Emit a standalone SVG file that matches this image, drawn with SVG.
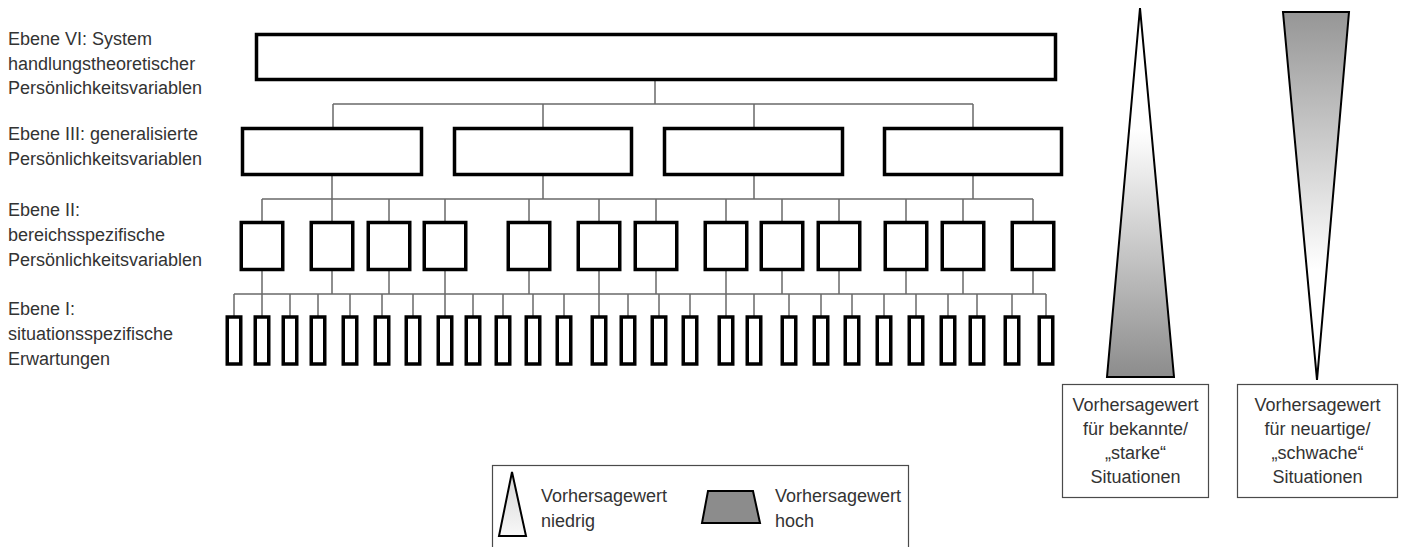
<svg xmlns="http://www.w3.org/2000/svg" width="1405" height="547" viewBox="0 0 1405 547">
<style>
.t{font-family:"Liberation Sans",Arial,sans-serif;font-size:18px;fill:#333}
.c{text-anchor:middle}
.box{fill:#fff;stroke:#000;stroke-width:3.5}
.con{stroke:#6a6a6a;stroke-width:1.5;fill:none}
.out{fill:#fff;stroke:#4a4a4a;stroke-width:1.2}
.tri{stroke:#000;stroke-width:2;stroke-linejoin:miter}
</style>
<defs>
<linearGradient id="gUp" x1="0" y1="0" x2="0" y2="1">
<stop offset="0" stop-color="#fff"/><stop offset="0.33" stop-color="#fff"/><stop offset="1" stop-color="#8c8c8c"/>
</linearGradient>
<linearGradient id="gDown" x1="0" y1="0" x2="0" y2="1">
<stop offset="0" stop-color="#969696"/><stop offset="0.7" stop-color="#fff"/><stop offset="1" stop-color="#fff"/>
</linearGradient>
<linearGradient id="gLeg" x1="0" y1="0" x2="0" y2="1">
<stop offset="0" stop-color="#d6d6d6"/><stop offset="1" stop-color="#f8f8f8"/>
</linearGradient>
</defs>
<rect width="1405" height="547" fill="#fff"/>

<g id="labels">
<text class="t" x="8" y="45">Ebene VI: System</text>
<text class="t" x="8" y="69.5">handlungstheoretischer</text>
<text class="t" x="8" y="94">Persönlichkeitsvariablen</text>
<text class="t" x="8" y="140">Ebene III: generalisierte</text>
<text class="t" x="8" y="165">Persönlichkeitsvariablen</text>
<text class="t" x="8" y="216">Ebene II:</text>
<text class="t" x="8" y="240.5">bereichsspezifische</text>
<text class="t" x="8" y="266">Persönlichkeitsvariablen</text>
<text class="t" x="8" y="315">Ebene I:</text>
<text class="t" x="8" y="340">situationsspezifische</text>
<text class="t" x="8" y="365">Erwartungen</text>
</g>

<g id="connectors">
<path class="con" d="M655 81V104M333 104H973M333 104V127M543 104V127M754 104V127M973 104V127"/>
<path class="con" d="M332 176V199M543 176V199M754 176V199M973 176V199M262 199H1033
M262 199V221M332 199V221M389 199V221M445 199V221M529 199V221M599 199V221M656 199V221M726 199V221M782 199V221M839 199V221M906 199V221M963 199V221M1033 199V221"/>
<path class="con" d="M262 271V294M332 271V294M389 271V294M445 271V294M529 271V294M599 271V294M656 271V294M726 271V294M782 271V294M839 271V294M906 271V294M963 271V294M1033 271V294M234 294H1046
M234 294V316M262 294V316M290 294V316M318 294V316M350 294V316M382 294V316M413 294V316M445 294V316M473 294V316M503 294V316M533 294V316M564 294V316M599 294V316M628 294V316M659 294V316M690 294V316M726 294V316M754 294V316M789 294V316M821 294V316M852 294V316M884 294V316M916 294V316M948 294V316M977 294V316M1012 294V316M1046 294V316"/>
</g>

<g id="level6"><rect class="box" x="256.5" y="34.5" width="799" height="45"/></g>

<g id="level3">
<rect class="box" x="242.5" y="128.5" width="179" height="46"/>
<rect class="box" x="454.5" y="128.5" width="177" height="46"/>
<rect class="box" x="664.5" y="128.5" width="178" height="46"/>
<rect class="box" x="884.5" y="128.5" width="177" height="46"/>
</g>

<g id="level2">
<rect class="box" x="241.25" y="222.5" width="41.5" height="47"/>
<rect class="box" x="311.25" y="222.5" width="41.5" height="47"/>
<rect class="box" x="368.25" y="222.5" width="41.5" height="47"/>
<rect class="box" x="424.25" y="222.5" width="41.5" height="47"/>
<rect class="box" x="508.25" y="222.5" width="41.5" height="47"/>
<rect class="box" x="578.25" y="222.5" width="41.5" height="47"/>
<rect class="box" x="635.25" y="222.5" width="41.5" height="47"/>
<rect class="box" x="705.25" y="222.5" width="41.5" height="47"/>
<rect class="box" x="761.25" y="222.5" width="41.5" height="47"/>
<rect class="box" x="818.25" y="222.5" width="41.5" height="47"/>
<rect class="box" x="885.25" y="222.5" width="41.5" height="47"/>
<rect class="box" x="942.25" y="222.5" width="41.5" height="47"/>
<rect class="box" x="1012.25" y="222.5" width="41.5" height="47"/>
</g>

<g id="level1">
<rect class="box" x="227.25" y="317" width="13.5" height="47"/>
<rect class="box" x="255.25" y="317" width="13.5" height="47"/>
<rect class="box" x="283.25" y="317" width="13.5" height="47"/>
<rect class="box" x="311.25" y="317" width="13.5" height="47"/>
<rect class="box" x="343.25" y="317" width="13.5" height="47"/>
<rect class="box" x="375.25" y="317" width="13.5" height="47"/>
<rect class="box" x="406.25" y="317" width="13.5" height="47"/>
<rect class="box" x="438.25" y="317" width="13.5" height="47"/>
<rect class="box" x="466.25" y="317" width="13.5" height="47"/>
<rect class="box" x="496.25" y="317" width="13.5" height="47"/>
<rect class="box" x="526.25" y="317" width="13.5" height="47"/>
<rect class="box" x="557.25" y="317" width="13.5" height="47"/>
<rect class="box" x="592.25" y="317" width="13.5" height="47"/>
<rect class="box" x="621.25" y="317" width="13.5" height="47"/>
<rect class="box" x="652.25" y="317" width="13.5" height="47"/>
<rect class="box" x="683.25" y="317" width="13.5" height="47"/>
<rect class="box" x="719.25" y="317" width="13.5" height="47"/>
<rect class="box" x="747.25" y="317" width="13.5" height="47"/>
<rect class="box" x="782.25" y="317" width="13.5" height="47"/>
<rect class="box" x="814.25" y="317" width="13.5" height="47"/>
<rect class="box" x="845.25" y="317" width="13.5" height="47"/>
<rect class="box" x="877.25" y="317" width="13.5" height="47"/>
<rect class="box" x="909.25" y="317" width="13.5" height="47"/>
<rect class="box" x="941.25" y="317" width="13.5" height="47"/>
<rect class="box" x="970.25" y="317" width="13.5" height="47"/>
<rect class="box" x="1005.25" y="317" width="13.5" height="47"/>
<rect class="box" x="1039.25" y="317" width="13.5" height="47"/>
</g>

<g id="triangle-known"><polygon class="tri" fill="url(#gUp)" points="1140,8 1174,377 1107,377"/></g>
<g id="triangle-novel"><polygon class="tri" fill="url(#gDown)" points="1283,12 1349,12 1317,380"/></g>

<g id="box-known">
<rect class="out" x="1062.5" y="384.5" width="146" height="113"/>
<text class="t c" x="1135.5" y="411">Vorhersagewert</text>
<text class="t c" x="1135.5" y="435">für bekannte/</text>
<text class="t c" x="1135.5" y="458.5">„starke“</text>
<text class="t c" x="1135.5" y="483">Situationen</text>
</g>
<g id="box-novel">
<rect class="out" x="1237.5" y="384.5" width="160" height="113"/>
<text class="t c" x="1317.5" y="411">Vorhersagewert</text>
<text class="t c" x="1317.5" y="435">für neuartige/</text>
<text class="t c" x="1317.5" y="458.5">„schwache“</text>
<text class="t c" x="1317.5" y="483">Situationen</text>
</g>

<g id="legend">
<rect class="out" x="492.5" y="465.5" width="416" height="100"/>
<polygon class="tri" fill="url(#gLeg)" points="512,472 526,536 499,536"/>
<text class="t" x="541" y="502">Vorhersagewert</text>
<text class="t" x="541" y="527">niedrig</text>
<polygon class="tri" fill="#8c8c8c" points="708,491 753,491 760,523 702,523"/>
<text class="t" x="775" y="502">Vorhersagewert</text>
<text class="t" x="775" y="527">hoch</text>
</g>
</svg>
